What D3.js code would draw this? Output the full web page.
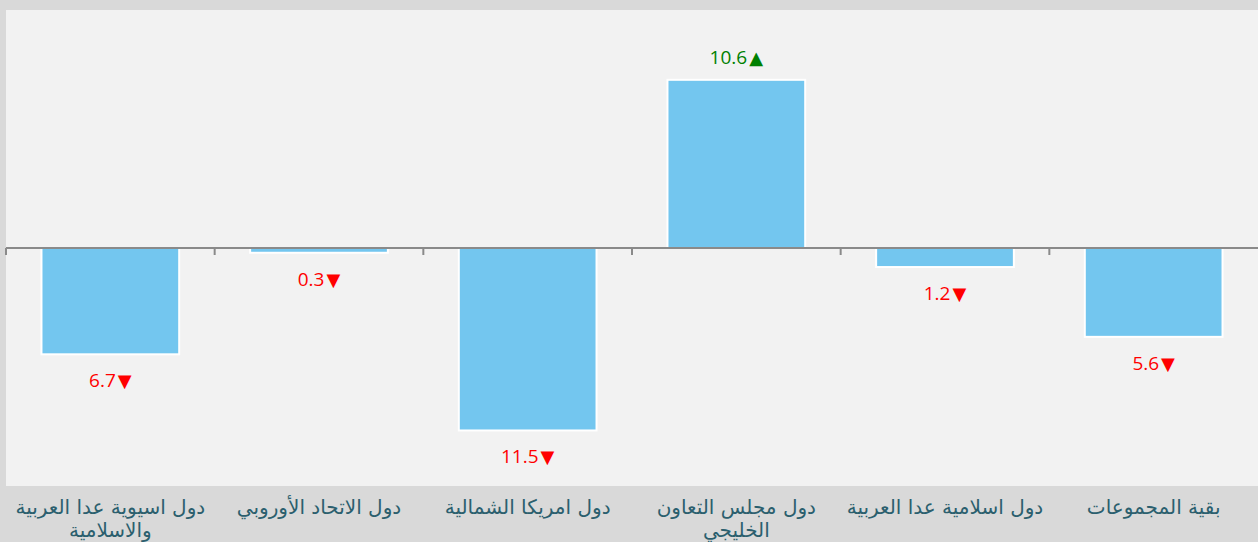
<!DOCTYPE html>
<html>
<head>
<meta charset="utf-8">
<script src="https://cdn.jsdelivr.net/npm/d3@7"></script>
<style>
  body { margin: 0; background: #d9d9d9; }
  svg { display: block; }
</style>
</head>
<body>
<svg id="chart"></svg>
<script>
let categories = [
	"دول اسيوية عدا العربية والاسلامية",
	"دول الاتحاد الأوروبي",
	"دول امريكا الشمالية",
	"دول مجلس التعاون الخليجي",
	"دول اسلامية عدا العربية",
	"بقية المجموعات"
];
let values = [-6.7, -0.3, -11.5, 10.6, -1.2, -5.6];

let width = 1258, height = 542;
let plot = {left: 6, right: 1258, top: 10, bottom: 486};

let svg = d3.select("#chart")
	.attr("width", width)
	.attr("height", height);

svg.append("rect")
	.attr("width", width).attr("height", height)
	.attr("fill", "#d9d9d9");

svg.append("rect")
	.attr("x", plot.left).attr("y", plot.top)
	.attr("width", plot.right - plot.left)
	.attr("height", plot.bottom - plot.top)
	.attr("fill", "#f2f2f2");

let x = d3.scaleBand()
	.domain(categories)
	.range([plot.left, plot.right])
	.paddingInner(0.34)
	.paddingOuter(0.17);

let y = d3.scaleLinear()
	.domain([-15, 15])
	.range([plot.bottom, plot.top]);

let data = categories.map((c, i) => ({cat: c, v: values[i]}));

// bars
svg.selectAll("rect.bar")
	.data(data)
	.enter().append("rect")
	.attr("class", "bar")
	.attr("x", d => x(d.cat))
	.attr("width", x.bandwidth())
	.attr("y", d => y(Math.max(0, d.v)))
	.attr("height", d => Math.abs(y(d.v) - y(0)))
	.attr("fill", "#73c6ef")
	.attr("stroke", "#ffffff")
	.attr("stroke-width", 2);

// zero axis with category ticks
let step = (plot.right - plot.left) / categories.length;
let tickPos = d3.range(categories.length).map(i => plot.left + i * step);
svg.selectAll("line.tick")
	.data(tickPos)
	.enter().append("line")
	.attr("class", "tick")
	.attr("x1", d => d).attr("x2", d => d)
	.attr("y1", y(0)).attr("y2", y(0) + 7)
	.attr("stroke", "#8a8a8a")
	.attr("stroke-width", 2);

svg.append("line")
	.attr("x1", plot.left).attr("x2", plot.right)
	.attr("y1", y(0)).attr("y2", y(0))
	.attr("stroke", "#8a8a8a")
	.attr("stroke-width", 2);

// value labels
let vals = svg.selectAll("text.val")
	.data(data)
	.enter().append("text")
	.attr("class", "val")
	.attr("x", d => x(d.cat) + x.bandwidth() / 2)
	.attr("y", d => d.v >= 0 ? y(d.v) - 16 : y(d.v) + 33)
	.attr("text-anchor", "middle")
	.attr("direction", "ltr")
	.style("font-family", "'Open Sans', 'Noto Sans', sans-serif")
	.style("font-size", "19px")
	.attr("fill", d => d.v >= 0 ? "#008000" : "#ff0000");
vals.append("tspan")
	.text(d => Math.abs(d.v).toFixed(1));
vals.append("tspan")
	.attr("dx", 2)
	.style("font-family", "'DejaVu Sans', sans-serif")
	.style("font-size", "18px")
	.text(d => d.v >= 0 ? "▲" : "▼");

// category labels, wrapped
let maxW = step - 8;
let labels = svg.selectAll("text.cat")
	.data(data)
	.enter().append("text")
	.attr("class", "cat")
	.attr("x", d => x(d.cat) + x.bandwidth() / 2)
	.attr("y", 514)
	.attr("text-anchor", "middle")
	.attr("direction", "rtl")
	.style("font-family", "'DejaVu Sans', sans-serif")
	.style("font-size", "20px")
	.attr("fill", "#2b5f6e");

labels.each(function(d) {
	let t = d3.select(this);
	let words = d.cat.split(" ");
	let lines = [];
	let cur = [];
	let probe = t.append("tspan");
	for (let w of words) {
		let test = cur.concat([w]).join(" ");
		probe.text(test);
		if (probe.node().getComputedTextLength() > maxW && cur.length) {
			lines.push(cur.join(" "));
			cur = [w];
		} else
			cur.push(w);
	}
	lines.push(cur.join(" "));
	probe.remove();
	lines.forEach((l, i) => {
		t.append("tspan")
			.attr("x", x(d.cat) + x.bandwidth() / 2)
			.attr("dy", i ? 23 : 0)
			.text(l);
	});
});
</script>
</body>
</html>
